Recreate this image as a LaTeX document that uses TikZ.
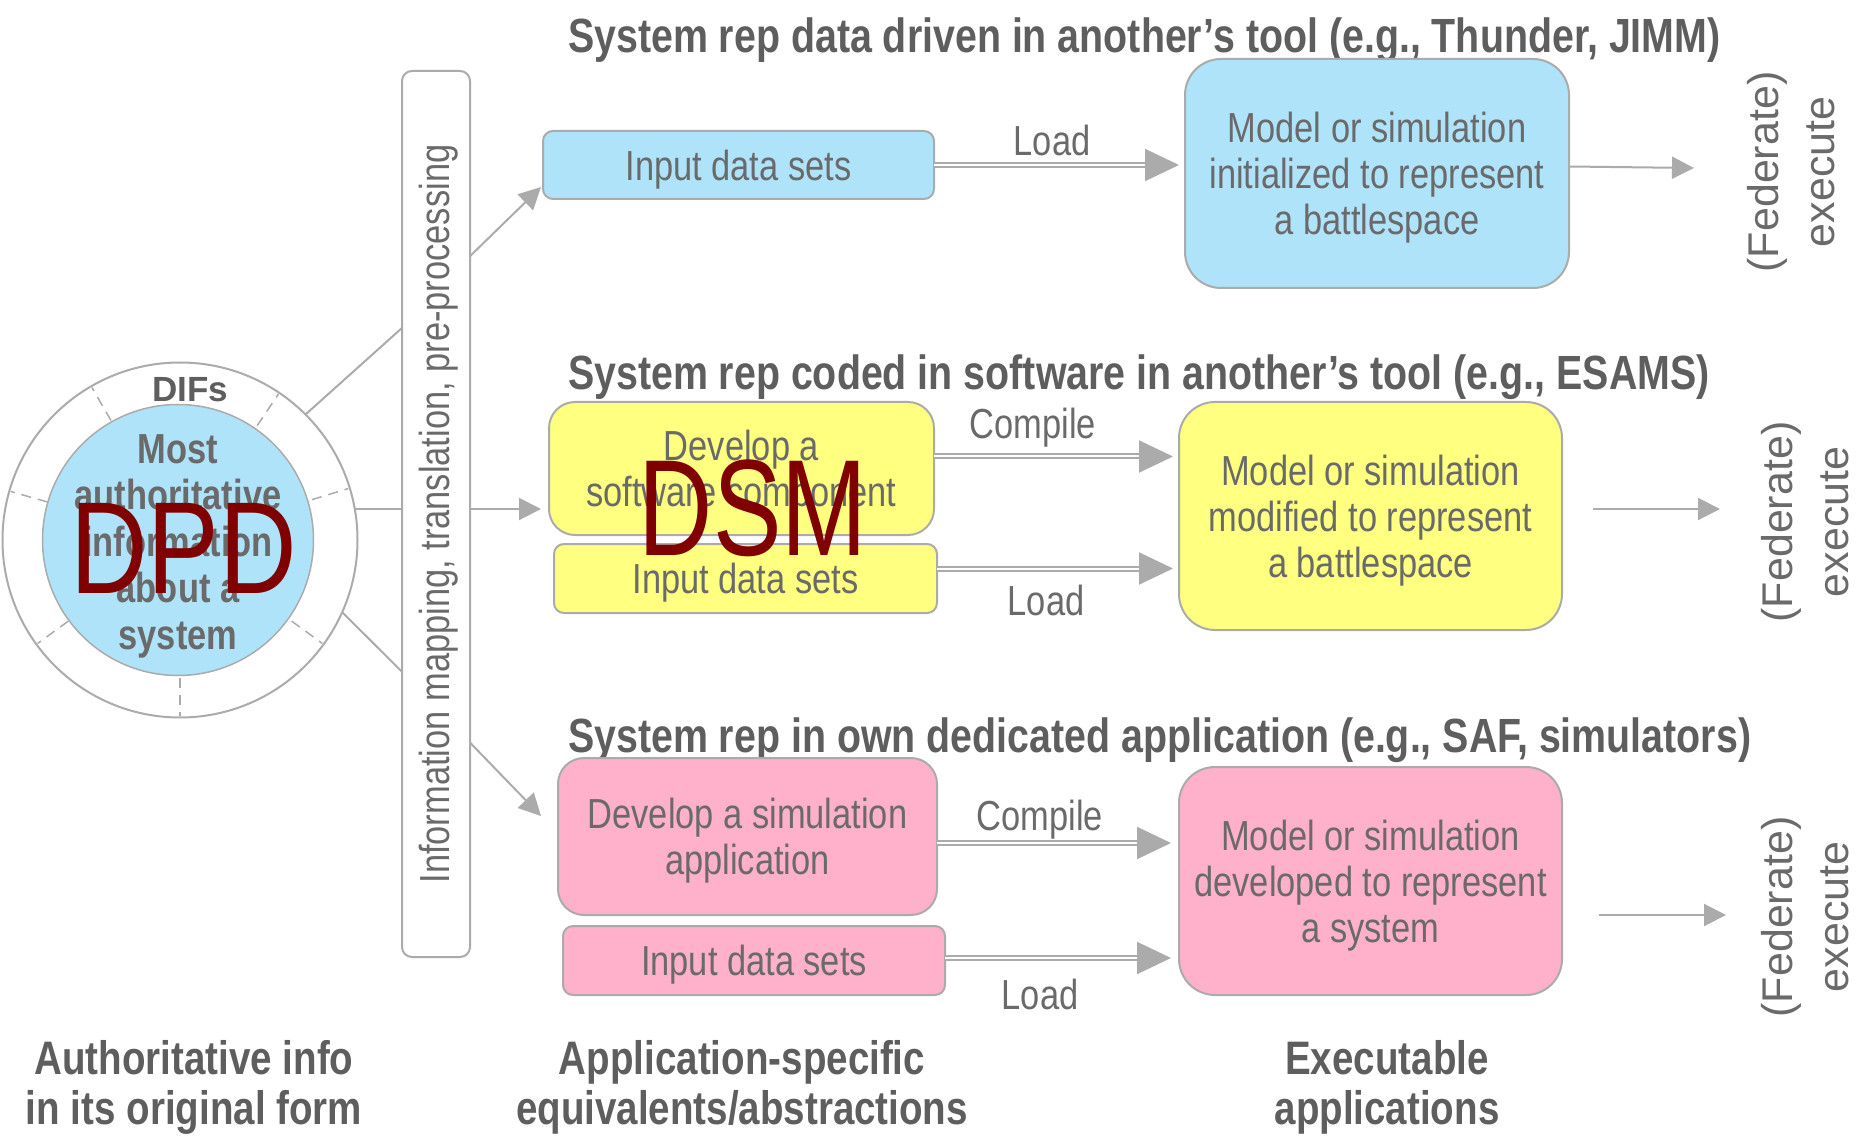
\documentclass[tikz,border=0pt]{standalone}
\usepackage{fontspec}
\setmainfont{Liberation Sans}
\newfontfamily\narrowfont{Liberation Sans}[FakeStretch=0.82]
\newfontfamily\slimfont{Liberation Sans}[FakeStretch=0.75]
\usetikzlibrary{arrows.meta,calc}

\definecolor{inktext}{HTML}{6A6A6A}
\definecolor{inkhead}{HTML}{5E5E5E}
\definecolor{rule}{HTML}{ABABAB}
\definecolor{skyfill}{HTML}{AEE3FA}
\definecolor{lemonfill}{HTML}{FFFF80}
\definecolor{rosefill}{HTML}{FFB0CB}
\definecolor{stamp}{HTML}{800000}

\begin{document}
\begin{tikzpicture}[x=1pt,y=-1pt,
  every node/.style={inner sep=0pt, outer sep=0pt},
  boxtext/.style={text=inktext, align=center, font=\narrowfont\fontsize{42}{46}\selectfont},
  card/.style={boxtext, draw=rule, line width=2pt, text depth=-3pt},
  headtext/.style={text=inkhead, anchor=base west, font=\narrowfont\bfseries\fontsize{48}{52}\selectfont},
  foottext/.style={text=inkhead, align=center, font=\narrowfont\bfseries\fontsize{47}{50}\selectfont},
  fedtext/.style={text=inktext, align=center, rotate=90, font=\fontsize{43}{56}\selectfont},
  wire/.style={draw=rule, line width=2pt},
  feed/.style={wire, -{Triangle[length=22pt,width=22pt]}, rule},
  pipe/.style={draw=rule, line width=2pt, double=white, double distance=2pt,
               -{Triangle[length=34pt,width=32pt]}},
  spoke/.style={draw=rule, line width=1.5pt, dash pattern=on 10pt off 7pt},
]
\useasboundingbox (0,0) rectangle (1864,1139);

% --- left: authoritative source circle ---
\node[circle, draw=rule, line width=2pt, minimum size=355pt] (ring) at (180,540) {};
\node[circle, draw=rule, line width=1.5pt, fill=skyfill, minimum size=271pt] (core) at (178,540) {};
\foreach \a in {17,56,120,164,216,270,324}
  \draw[spoke] ($(ring.center)+(-\a:138)$) -- ($(ring.center)+(-\a:176)$);
\node[text=inkhead, font=\bfseries\fontsize{35}{40}\selectfont] (difs) at (190,390) {DIFs};
\node[text=inktext, align=center, font=\narrowfont\bfseries\fontsize{42}{46.5}\selectfont] (coreLbl) at (178,546)
  {Most\\authoritative\\information\\about a\\system};
\node[text=stamp, font=\narrowfont\fontsize{131}{131}\selectfont] (dpd) at (183.5,548) {DPD};

% --- mapping bar ---
\node[card, rounded corners=10pt, minimum width=68pt, minimum height=886pt] (bar) at (436,514) {};
\node[boxtext, rotate=90] (barLbl) at ($(bar.center)+(3,0)$) {Information mapping, translation, pre-processing};

\draw[wire] (ring.45) -- ($(bar.north west)!0.29!(bar.south west)$);
\draw[wire] (ring.10) -- (ring.10 -| bar.west);
\draw[wire] (ring.-24) -- ($(bar.north west)!0.678!(bar.south west)$);

% --- row titles ---
\node[headtext] (titleA) at (568,52.5) {System rep data driven in another’s tool (e.g., Thunder, JIMM)};
\node[headtext] (titleB) at (568,390) {System rep coded in software in another’s tool (e.g., ESAMS)};
\node[headtext] (titleC) at (568,752) {System rep in own dedicated application (e.g., SAF, simulators)};

% --- row A: data driven ---
\node[card, fill=skyfill, rounded corners=10pt, minimum width=391pt, minimum height=68pt] (inA) at (738.5,165) {Input data sets};
\node[card, fill=skyfill, rounded corners=36pt, minimum width=384pt, minimum height=229pt] (modA) at (1377,173.5)
  {Model or simulation\\initialized to represent\\a battlespace};

% --- row B: coded software ---
\node[card, fill=lemonfill, rounded corners=26pt, minimum width=385pt, minimum height=133pt] (devB) at (741.5,468.5)
  {Develop a\\software component};
\node[card, fill=lemonfill, rounded corners=10pt, minimum width=383pt, minimum height=69pt] (inB) at (745.5,578.5) {Input data sets};
\node[card, fill=lemonfill, rounded corners=36pt, minimum width=383pt, minimum height=228pt] (modB) at (1370.5,516)
  {Model or simulation\\modified to represent\\a battlespace};
\node[text=stamp, font=\slimfont\fontsize{137}{137}\selectfont] (dsm) at (753,508) {DSM};

% --- row C: dedicated application ---
\node[card, fill=rosefill, rounded corners=26pt, minimum width=379pt, minimum height=157pt] (devC) at (747.5,836.5)
  {Develop a simulation\\application};
\node[card, fill=rosefill, rounded corners=10pt, minimum width=382pt, minimum height=69pt] (inC) at (754,960.5) {Input data sets};
\node[card, fill=rosefill, rounded corners=36pt, minimum width=383pt, minimum height=228pt] (modC) at (1370.5,881)
  {Model or simulation\\developed to represent\\a system};

% --- fan-out from the mapping bar ---
\coordinate (tapA) at (541,187);
\coordinate (tapB) at (541,509);
\coordinate (tapC) at (541,816);
\draw[feed] ($(bar.north east)!0.209!(bar.south east)$) -- (tapA);
\draw[feed] (tapB -| bar.east) -- (tapB);
\draw[feed] ($(bar.north east)!0.758!(bar.south east)$) -- (tapC);

% --- build / load arrows ---
\draw[pipe] (inA.east) -- ($(inA.east -| modA.west)+(-6,0)$);
\draw[pipe] ($(devB.east)+(0,-12)$) -- ($(devB.east -| modB.west)+(-6,-12)$);
\draw[pipe] ($(inB.east)+(0,-10)$) -- ($(inB.east -| modB.west)+(-6,-10)$);
\draw[pipe] ($(devC.east)+(0,6.5)$) -- ($(devC.east -| modC.west)+(-8,6.5)$);
\draw[pipe] ($(inC.east)+(0,-2.5)$) -- ($(inC.east -| modC.west)+(-8,-2.5)$);

\node[boxtext] (loadA) at (1052,140) {Load};
\node[boxtext] (compB) at (1033,428) {Compile};
\node[boxtext] (loadB) at (1046,600) {Load};
\node[boxtext] (compC) at (1040,820) {Compile};
\node[boxtext] (loadC) at (1040,994) {Load};

% --- execution outputs ---
\node[fedtext] (fedA) at (1791,172) {(Federate)\\execute};
\node[fedtext] (fedB) at (1805,522) {(Federate)\\execute};
\node[fedtext] (fedC) at (1805,917) {(Federate)\\execute};
\coordinate (outA) at (1694,168);
\coordinate (outB) at (1720,509);
\coordinate (outC) at (1726,915);
\draw[feed] ($(modA.east)+(0,-7)$) -- (outA);
\draw[feed] ($(modB.east)+(31,-7)$) -- (outB);
\draw[feed] ($(modC.east)+(37,34)$) -- (outC);

% --- column captions ---
\node[foottext] (capL) at (194,1087.5) {Authoritative info\\in its original form};
\node[foottext] (capM) at (742,1087.5) {Application-specific\\equivalents/abstractions};
\node[foottext] (capR) at (1387,1087.5) {Executable\\applications};
\end{tikzpicture}
\end{document}
